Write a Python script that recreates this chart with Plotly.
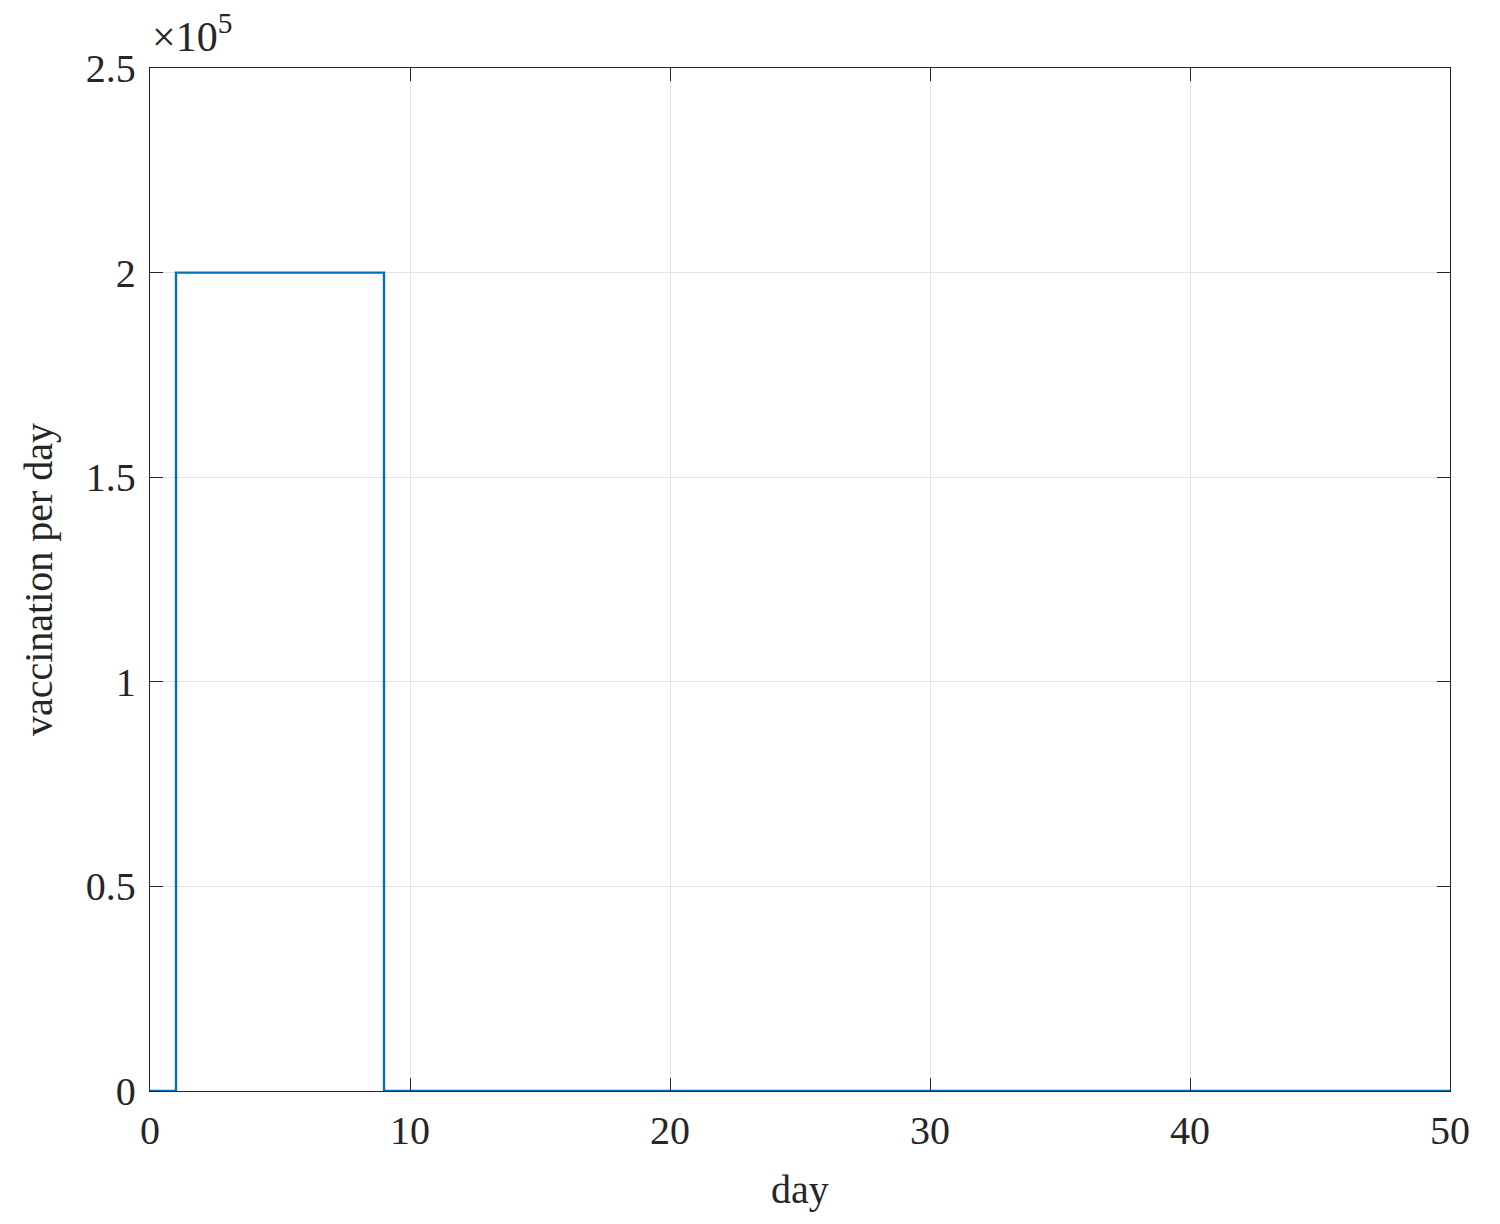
import plotly.graph_objects as go

days = list(range(0, 51))
vaccinations = [0] + [200000] * 8 + [0] * 42

x_ticks = [0, 10, 20, 30, 40, 50]
y_ticks = [0, 50000, 100000, 150000, 200000, 250000]
y_tick_labels = ['0', '0.5', '1', '1.5', '2', '2.5']

font = dict(family='Liberation Serif, DejaVu Serif, serif', size=40, color='#262626')

fig = go.Figure()
fig.add_trace(go.Scatter(
    x=days, y=vaccinations, mode='lines', line_shape='hv',
    line=dict(color='#0072BD', width=2.4), showlegend=False,
))

axis_common = dict(
    showline=True, linecolor='#262626', linewidth=1.3, mirror='ticks',
    ticks='inside', ticklen=13, tickcolor='#262626', tickwidth=1.3,
    showgrid=True, gridcolor='#E3E3E3', gridwidth=1, zeroline=False,
    tickfont=font, automargin=False,
)
fig.update_xaxes(range=[0, 50], tickvals=x_ticks, ticklabelstandoff=4,
                 title=dict(text='day', font=font, standoff=22), **axis_common)
fig.update_yaxes(range=[0, 250000], tickvals=y_ticks, ticktext=y_tick_labels, ticklabelstandoff=5,
                 title=dict(text='vaccination per day', font=font, standoff=20), **axis_common)

fig.add_annotation(x=0, y=1, xref='paper', yref='paper', xanchor='left', yanchor='bottom',
                   text='×10<sup>5</sup>', showarrow=False,
                   font=dict(family=font['family'], size=42, color='#262626'), xshift=0, yshift=6)

fig.update_layout(
    width=1500, height=1224, plot_bgcolor='white', paper_bgcolor='white',
    margin=dict(l=142, r=58, t=60, b=141), font=font,
)
fig.write_html('out.html')
